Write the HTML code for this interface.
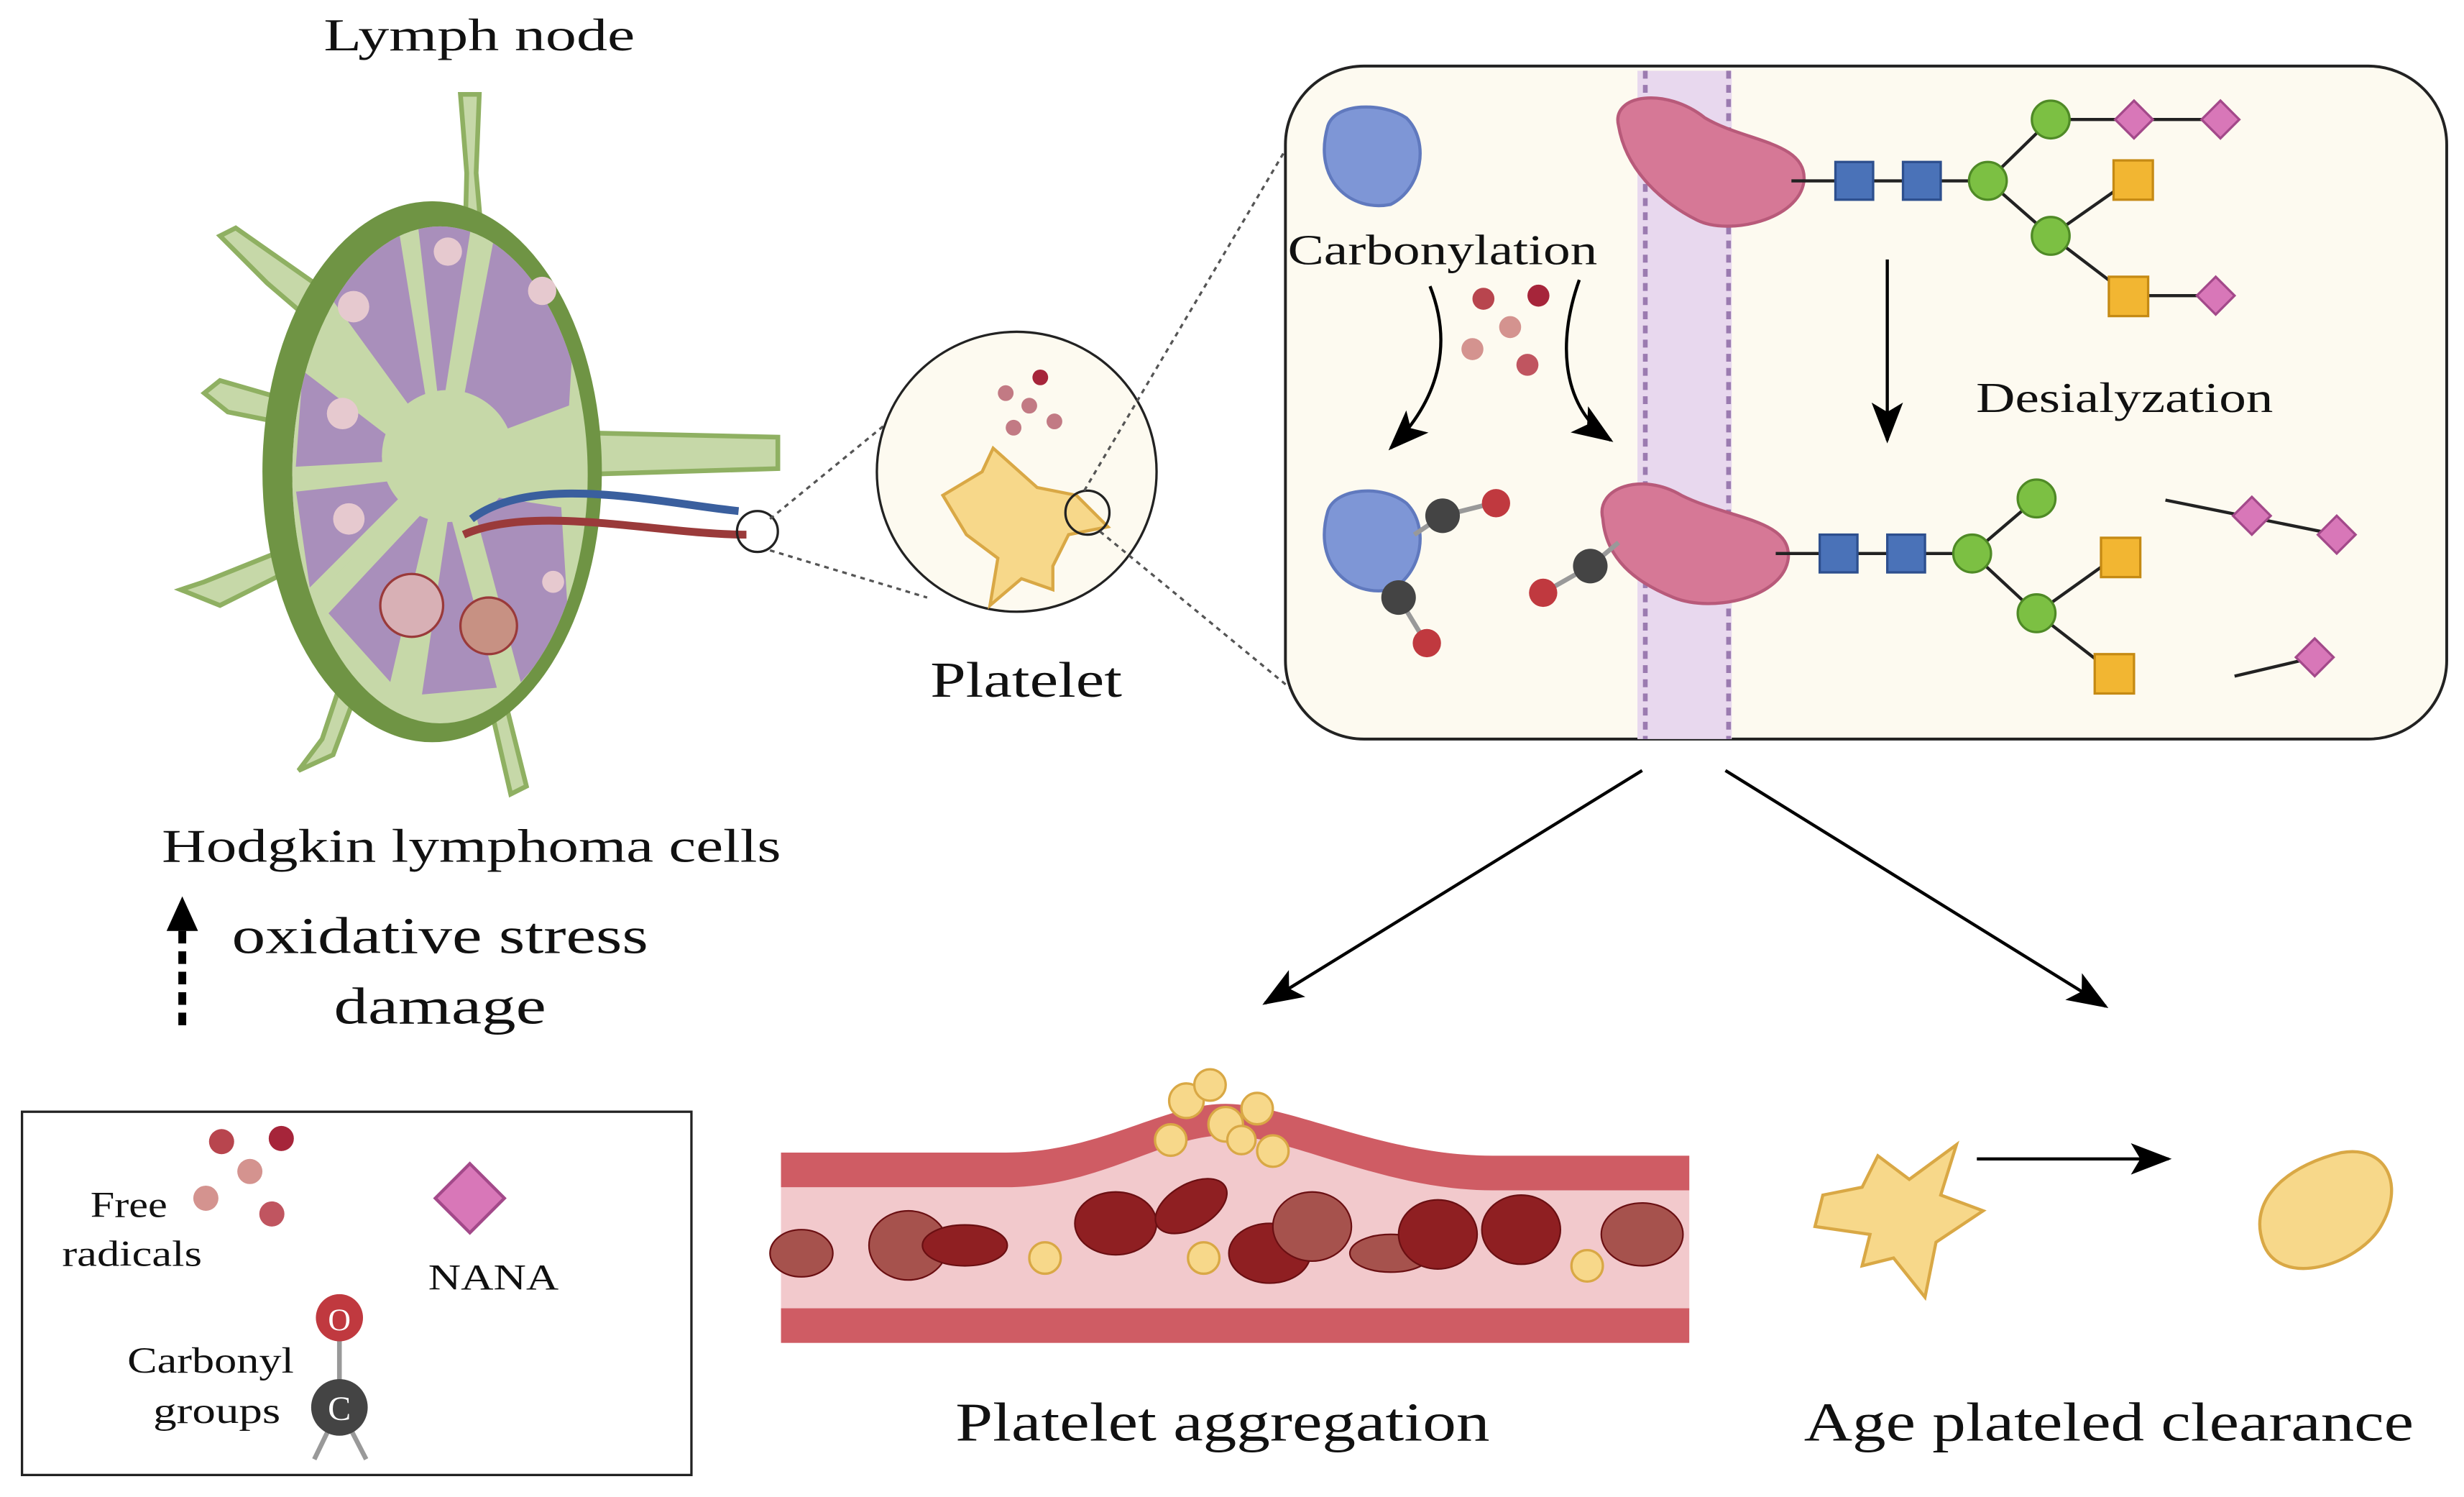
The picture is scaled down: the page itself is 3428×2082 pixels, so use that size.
<!DOCTYPE html>
<html><head><meta charset="utf-8"><style>
html,body{margin:0;padding:0;background:#fff;}
svg{display:block;}
text{font-family:"Liberation Serif",serif;fill:#111;}
</style></head><body>
<svg width="3428" height="2082" viewBox="0 0 1568 952" preserveAspectRatio="none" xmlns="http://www.w3.org/2000/svg">
<defs>
<marker id="ah2" markerWidth="26" markerHeight="20" refX="24" refY="10" orient="auto" markerUnits="userSpaceOnUse"><path d="M0,0 L26,10 L0,20 L6,10 z" fill="#000"/></marker>
<clipPath id="inner"><ellipse cx="280" cy="302" rx="94" ry="158"/></clipPath>
</defs>
<text x="305" y="32" font-size="29" text-anchor="middle" textLength="198" lengthAdjust="spacingAndGlyphs">Lymph node</text>
<g stroke="#8fb062" stroke-width="3" fill="#c6d8a8">
<path d="M293 60 L305 60 L303 110 L310 190 L295 190 L297 110z"/>
<path d="M140 150 L150 145 L200 180 L215 200 L205 210 L170 180z"/>
<path d="M130 250 L140 242 L185 255 L185 270 L145 262z"/>
<path d="M115 375 L130 370 L180 350 L190 360 L140 385z"/>
<path d="M190 490 L205 470 L215 440 L225 445 L212 480z"/>
<path d="M310 440 L320 440 L335 500 L325 505z"/>
<path d="M360 275 L495 278 L495 298 L360 302z"/>
</g>
<ellipse cx="275" cy="300" rx="108" ry="172" fill="#6f9444"/>
<ellipse cx="280" cy="302" rx="94" ry="158" fill="#c6d8a8"/>
<g fill="#a98fbb" stroke="#c6d8a8" stroke-width="6" clip-path="url(#inner)">
<path d="M280 290 L200 180 L255 135 Z"/>
<path d="M280 290 L262 135 L305 130 Z"/>
<path d="M285 290 L315 132 L370 175 L365 260 Z"/>
<path d="M275 295 L190 230 L185 300 Z"/>
<path d="M275 300 L185 310 L195 380 Z"/>
<path d="M280 310 L205 390 L250 440 Z"/>
<path d="M285 310 L265 445 L320 440 Z"/>
<path d="M295 310 L330 440 L365 400 L360 320 Z"/>
</g>
<g fill="#e6c9cf"><circle cx="225" cy="195" r="10"/><circle cx="285" cy="160" r="9"/><circle cx="345" cy="185" r="9"/><circle cx="218" cy="263" r="10"/><circle cx="222" cy="330" r="10"/><circle cx="352" cy="370" r="7"/></g>
<circle cx="285" cy="290" r="42" fill="#c6d8a8"/>
<path d="M300 330 C340 300 420 320 470 325" stroke="#3a5f9e" stroke-width="5" fill="none"/>
<path d="M295 340 C340 320 420 340 475 340" stroke="#9a3a3a" stroke-width="5" fill="none"/>
<circle cx="262" cy="385" r="20" fill="#d8b0b5" stroke="#9a3a3a" stroke-width="1.5"/>
<circle cx="311" cy="398" r="18" fill="#c79183" stroke="#9a3a3a" stroke-width="1.5"/>
<circle cx="482" cy="338" r="13" fill="none" stroke="#222" stroke-width="1.5"/>
<path d="M490 330 L600 240 M490 350 L590 380" stroke="#555" stroke-width="1.5" stroke-dasharray="3,3" fill="none"/>
<text x="300" y="548" font-size="30" text-anchor="middle" textLength="394" lengthAdjust="spacingAndGlyphs">Hodgkin lymphoma cells</text>
<line x1="116" y1="652" x2="116" y2="582" stroke="#000" stroke-width="5" stroke-dasharray="8,5"/>
<path d="M106 592 L116 570 L126 592z" fill="#000"/>
<text x="280" y="606" font-size="33" text-anchor="middle" textLength="265" lengthAdjust="spacingAndGlyphs">oxidative stress</text>
<text x="280" y="651" font-size="33" text-anchor="middle" textLength="135" lengthAdjust="spacingAndGlyphs">damage</text>
<circle cx="647" cy="300" r="89" fill="#fdfaf0" stroke="#222" stroke-width="1.5"/>
<path d="M600 315 L625 300 L632 285 L660 310 L685 315 L705 335 L680 340 L670 360 L670 375 L650 368 L630 385 L635 355 L615 340z" fill="#f7d88a" stroke="#d9a845" stroke-width="2"/>
<g fill="#c27a84"><circle cx="640" cy="250" r="5"/><circle cx="662" cy="240" r="5" fill="#a6253a"/><circle cx="655" cy="258" r="5"/><circle cx="645" cy="272" r="5"/><circle cx="671" cy="268" r="5"/></g>
<circle cx="692" cy="326" r="14" fill="none" stroke="#222" stroke-width="1.5"/>
<path d="M690 312 L830 75 M700 338 L830 445" stroke="#555" stroke-width="1.5" stroke-dasharray="3,3" fill="none"/>
<text x="653" y="443" font-size="32" text-anchor="middle" textLength="122" lengthAdjust="spacingAndGlyphs">Platelet</text>
<rect x="818" y="42" width="739" height="428" rx="50" fill="#fdfaf0" stroke="#222" stroke-width="1.8"/>
<rect x="1042" y="45" width="60" height="425" fill="#e8d8ee"/>
<g stroke="#9b7bb0" stroke-width="3">
<line x1="1047" y1="45" x2="1047" y2="470" stroke-dasharray="5,4"/>
<line x1="1100" y1="45" x2="1100" y2="470" stroke-dasharray="5,4"/>
</g>
<path d="M1030 80 C1025 60 1060 55 1085 75 C1110 90 1150 90 1148 115 C1145 140 1100 150 1080 140 C1060 130 1035 110 1030 80z" fill="#d67896" stroke="#b85a7a" stroke-width="2"/>
<path d="M1020 330 C1015 310 1045 300 1070 315 C1100 330 1140 330 1138 355 C1135 380 1090 390 1065 380 C1040 370 1022 355 1020 330z" fill="#d67896" stroke="#b85a7a" stroke-width="2"/>
<path d="M845 80 C850 65 880 65 895 75 C910 90 905 120 885 130 C860 135 835 115 845 80z" fill="#7e96d6" stroke="#6079be" stroke-width="2"/>
<path d="M845 325 C850 310 880 308 895 320 C910 335 905 365 885 375 C860 380 835 360 845 325z" fill="#7e96d6" stroke="#6079be" stroke-width="2"/>
<text x="918" y="168" font-size="27" text-anchor="middle" textLength="197" lengthAdjust="spacingAndGlyphs">Carbonylation</text>
<g fill="#d4938f"><circle cx="944" cy="190" r="7" fill="#b8454e"/><circle cx="979" cy="188" r="7" fill="#a6253a"/><circle cx="961" cy="208" r="7"/><circle cx="937" cy="222" r="7"/><circle cx="972" cy="232" r="7" fill="#c05560"/></g>
<path d="M910 182 C925 220 915 255 885 285" stroke="#000" stroke-width="2" fill="none" marker-end="url(#ah2)"/>
<path d="M1005 178 C990 220 995 260 1025 280" stroke="#000" stroke-width="2" fill="none" marker-end="url(#ah2)"/>
<g stroke="#999" stroke-width="3"><line x1="900" y1="340" x2="918" y2="328"/><line x1="918" y1="328" x2="950" y2="320"/><line x1="890" y1="370" x2="890" y2="380"/><line x1="890" y1="380" x2="907" y2="408"/><line x1="1030" y1="345" x2="1012" y2="360"/><line x1="1012" y1="360" x2="982" y2="377"/></g>
<g fill="#444"><circle cx="918" cy="328" r="11"/><circle cx="890" cy="380" r="11"/><circle cx="1012" cy="360" r="11"/></g>
<g fill="#c0393f"><circle cx="952" cy="320" r="9"/><circle cx="908" cy="409" r="9"/><circle cx="982" cy="377" r="9"/></g>
<g stroke="#222" stroke-width="2" fill="none">
<path d="M1140 115 H1265 L1305 76 H1415 M1265 115 L1305 150 L1355 115 M1305 150 L1355 188 H1410"/>
<path d="M1130 352 H1255 L1296 317 M1255 352 L1296 390 L1345 355 M1296 390 L1345 428"/>
<path d="M1378 318 L1487 340 M1422 430 L1473 418"/>
</g>
<g fill="#4a72b8" stroke="#2d4f8e" stroke-width="1.5">
<rect x="1168" y="103" width="24" height="24"/><rect x="1211" y="103" width="24" height="24"/>
<rect x="1158" y="340" width="24" height="24"/><rect x="1201" y="340" width="24" height="24"/>
</g>
<g fill="#7cc043" stroke="#4f8a26" stroke-width="1.5">
<circle cx="1265" cy="115" r="12"/><circle cx="1305" cy="76" r="12"/><circle cx="1305" cy="150" r="12"/>
<circle cx="1255" cy="352" r="12"/><circle cx="1296" cy="317" r="12"/><circle cx="1296" cy="390" r="12"/>
</g>
<g fill="#f2b632" stroke="#c58a14" stroke-width="1.5">
<rect x="1345" y="102" width="25" height="25"/><rect x="1342" y="176" width="25" height="25"/>
<rect x="1337" y="342" width="25" height="25"/><rect x="1333" y="416" width="25" height="25"/>
</g>
<g fill="#d877b8" stroke="#a3498a" stroke-width="1.5">
<path d="M1358 64 L1370 76 L1358 88 L1346 76z"/><path d="M1413 64 L1425 76 L1413 88 L1401 76z"/><path d="M1410 176 L1422 188 L1410 200 L1398 188z"/>
<path d="M1433 316 L1445 328 L1433 340 L1421 328z"/><path d="M1487 328 L1499 340 L1487 352 L1475 340z"/><path d="M1473 406 L1485 418 L1473 430 L1461 418z"/>
</g>
<line x1="1201" y1="165" x2="1201" y2="280" stroke="#000" stroke-width="2" marker-end="url(#ah2)"/>
<text x="1352" y="262" font-size="27" text-anchor="middle" textLength="189" lengthAdjust="spacingAndGlyphs">Desialyzation</text>
<line x1="1045" y1="490" x2="805" y2="638" stroke="#000" stroke-width="2" marker-end="url(#ah2)"/>
<line x1="1098" y1="490" x2="1340" y2="640" stroke="#000" stroke-width="2" marker-end="url(#ah2)"/>
<path d="M497 733 L640 733 C700 733 740 702 780 702 C820 702 880 735 950 735 L1075 735 L1075 833 L497 833z" fill="#f2c9cc"/>
<path d="M497 733 L640 733 C700 733 740 702 780 702 C820 702 880 735 950 735 L1075 735 L1075 757 L950 757 C880 757 820 722 780 722 C740 722 700 755 640 755 L497 755z" fill="#cf5c64"/>
<rect x="497" y="832" width="578" height="22" fill="#cf5c64"/>
<g fill="#8f1f22" stroke="#6a0f12" stroke-width="1">
<ellipse cx="578" cy="792" rx="25" ry="22" fill="#a6524d"/><ellipse cx="614" cy="792" rx="27" ry="13"/>
<ellipse cx="710" cy="778" rx="26" ry="20"/><ellipse cx="758" cy="767" rx="25" ry="14" transform="rotate(-30 758 767)"/>
<ellipse cx="808" cy="797" rx="26" ry="19"/><ellipse cx="835" cy="780" rx="25" ry="22" fill="#a6524d"/>
<ellipse cx="885" cy="797" rx="26" ry="12" fill="#a6524d"/><ellipse cx="915" cy="785" rx="25" ry="22"/>
<ellipse cx="968" cy="782" rx="25" ry="22"/><ellipse cx="1045" cy="785" rx="26" ry="20" fill="#a6524d"/>
<ellipse cx="510" cy="797" rx="20" ry="15" fill="#a6524d"/>
</g>
<g fill="#f7d88a" stroke="#d9a845" stroke-width="1.5">
<circle cx="665" cy="800" r="10"/><circle cx="766" cy="800" r="10"/><circle cx="1010" cy="805" r="10"/>
<circle cx="755" cy="700" r="11"/><circle cx="780" cy="715" r="11"/><circle cx="800" cy="705" r="10"/><circle cx="770" cy="690" r="10"/><circle cx="745" cy="725" r="10"/><circle cx="810" cy="732" r="10"/><circle cx="790" cy="725" r="9"/>
</g>
<text x="778" y="916" font-size="35" text-anchor="middle" textLength="340" lengthAdjust="spacingAndGlyphs">Platelet aggregation</text>
<path d="M1160 760 L1185 755 L1195 735 L1215 750 L1245 728 L1235 760 L1262 770 L1232 790 L1225 825 L1205 800 L1185 805 L1190 785 L1155 780z" fill="#f7d88a" stroke="#d9a845" stroke-width="2"/>
<line x1="1258" y1="737" x2="1380" y2="737" stroke="#000" stroke-width="2" marker-end="url(#ah2)"/>
<path d="M1440 790 C1430 760 1460 740 1490 733 C1520 728 1530 755 1515 780 C1500 805 1450 820 1440 790z" fill="#f7d88a" stroke="#d9a845" stroke-width="2"/>
<text x="1342" y="916" font-size="35" text-anchor="middle" textLength="388" lengthAdjust="spacingAndGlyphs">Age plateled clearance</text>
<rect x="14" y="707" width="426" height="231" fill="#fff" stroke="#222" stroke-width="1.5"/>
<g fill="#d4938f"><circle cx="141" cy="726" r="8" fill="#b8454e"/><circle cx="179" cy="724" r="8" fill="#a6253a"/><circle cx="159" cy="745" r="8"/><circle cx="131" cy="762" r="8"/><circle cx="173" cy="772" r="8" fill="#c05560"/></g>
<text x="82" y="774" font-size="23" text-anchor="middle" textLength="49" lengthAdjust="spacingAndGlyphs">Free</text>
<text x="84" y="805" font-size="23" text-anchor="middle" textLength="89" lengthAdjust="spacingAndGlyphs">radicals</text>
<path d="M299 740 L321 762 L299 784 L277 762z" fill="#d877b8" stroke="#a3498a" stroke-width="2"/>
<text x="314" y="820" font-size="23" text-anchor="middle" textLength="83" lengthAdjust="spacingAndGlyphs">NANA</text>
<g stroke="#999" stroke-width="3"><line x1="216" y1="850" x2="216" y2="890"/><line x1="216" y1="895" x2="200" y2="928"/><line x1="216" y1="895" x2="233" y2="928"/></g>
<circle cx="216" cy="838" r="15" fill="#c0393f"/>
<text x="216" y="846" font-size="20" text-anchor="middle" style="fill:#fff">O</text>
<circle cx="216" cy="895" r="18" fill="#444"/>
<text x="216" y="903" font-size="22" text-anchor="middle" style="fill:#fff">C</text>
<text x="134" y="873" font-size="23" text-anchor="middle" textLength="106" lengthAdjust="spacingAndGlyphs">Carbonyl</text>
<text x="138" y="905" font-size="23" text-anchor="middle" textLength="81" lengthAdjust="spacingAndGlyphs">groups</text>
</svg>
</body></html>
